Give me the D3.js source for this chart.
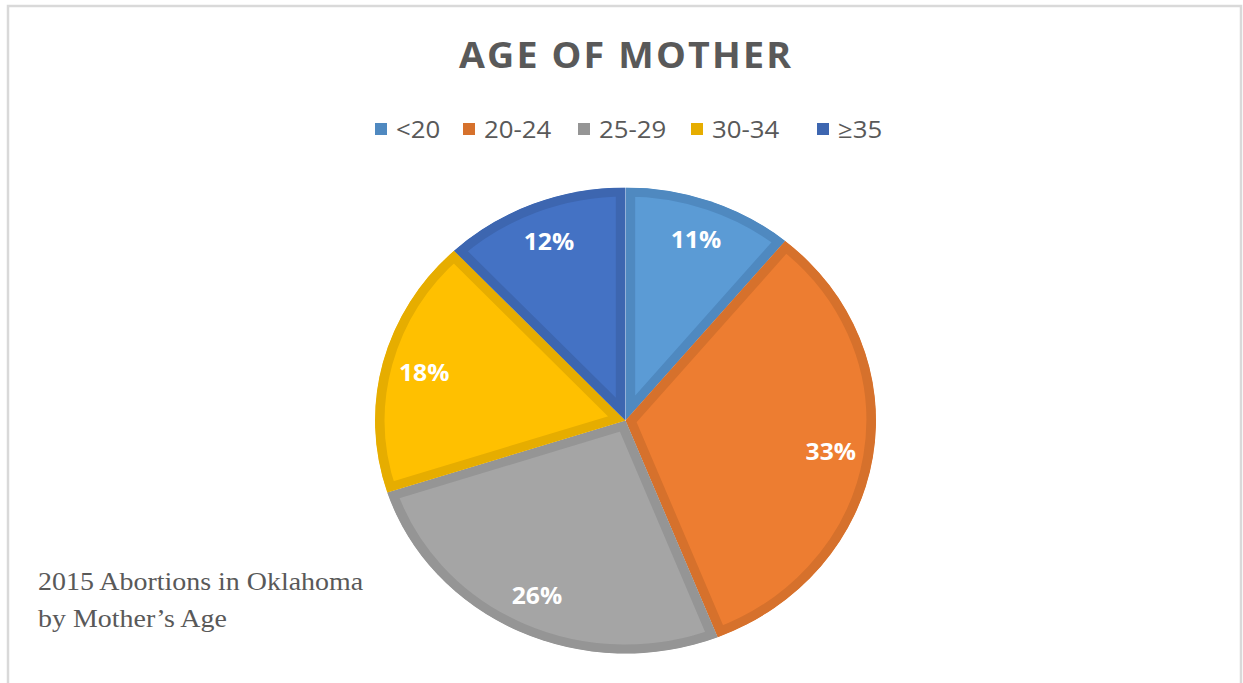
<!DOCTYPE html>
<html>
<head>
<meta charset="utf-8">
<script src="https://cdn.jsdelivr.net/npm/d3@7"></script>
<style>
  html, body { margin: 0; padding: 0; background: #fff; }
  svg { display: block; }
</style>
</head>
<body>
<svg id="chart" width="1243" height="683"></svg>
<script>
// ---- data ----
const categories = ["<20", "20-24", "25-29", "30-34", "\u226535"];
const values = [11, 33, 26, 18, 12];
const labels = ["11%", "33%", "26%", "18%", "12%"];
const fillColors = ["#5B9BD5", "#ED7D31", "#A5A5A5", "#FFC000", "#4472C4"];
const borderColors = ["#4F89C0", "#D6712C", "#959595", "#E6AD00", "#3D66B0"];
const title = "AGE OF MOTHER";
const noteLines = ["2015 Abortions in Oklahoma", "by Mother\u2019s Age"];

const svg = d3.select("#chart");
const sx = 1.075; // horizontal stretch of the original picture

function stext(parent, x, y) {
  return parent.append("g")
    .attr("transform", `translate(${x},${y}) scale(${sx},1)`)
    .append("text");
}

// frame
svg.append("rect")
  .attr("x", 8).attr("y", 6).attr("width", 1233).attr("height", 720)
  .attr("fill", "#fff").attr("stroke", "#D9D9D9").attr("stroke-width", 2.5);

// title
stext(svg, 626, 68)
  .attr("text-anchor", "middle")
  .attr("font-family", "'Open Sans', sans-serif")
  .attr("font-weight", 700)
  .attr("font-size", 35)
  .attr("letter-spacing", 2)
  .attr("fill", "#595959")
  .text(title);

// legend
const legendX = [375, 463, 578, 691, 817];
categories.forEach((c, i) => {
  svg.append("rect").attr("x", legendX[i]).attr("y", 123).attr("width", 12).attr("height", 12)
    .attr("fill", borderColors[i]);
  stext(svg, legendX[i] + 21, 138)
    .attr("font-family", "'Open Sans', sans-serif")
    .attr("font-size", 24)
    .attr("fill", "#595959")
    .text(c);
});

// pie
const cx = 625.5, cy = 420.5, R = 233;
const pie = d3.pie().sort(null).value(d => d)(values);
const arc = d3.arc().innerRadius(0).outerRadius(R);
const labelArc = d3.arc().innerRadius(R * 0.83).outerRadius(R * 0.83);

const defs = svg.append("defs");
const pg = svg.append("g").attr("transform", `translate(${cx},${cy}) scale(${sx},1)`);
pie.forEach((p, i) => {
  defs.append("clipPath").attr("id", "clip" + i)
    .append("path").attr("d", arc(p));
  pg.append("path")
    .attr("d", arc(p))
    .attr("fill", fillColors[i])
    .attr("stroke", borderColors[i])
    .attr("stroke-width", 18)
    .attr("stroke-linejoin", "miter")
    .attr("clip-path", `url(#clip${i})`);
});

// labels
pie.forEach((p, i) => {
  const [lx, ly] = labelArc.centroid(p);
  stext(svg, cx + lx * sx, cy + ly + 9)
    .attr("text-anchor", "middle")
    .attr("font-family", "'Open Sans', sans-serif")
    .attr("font-weight", 700)
    .attr("font-size", 23)
    .attr("fill", "#FFFFFF")
    .text(labels[i]);
});

// note
noteLines.forEach((t, i) => {
  stext(svg, 38, 590 + i * 37)
    .attr("font-family", "'Liberation Serif', serif")
    .attr("font-size", 26)
    .attr("fill", "#595959")
    .text(t);
});
</script>
</body>
</html>
